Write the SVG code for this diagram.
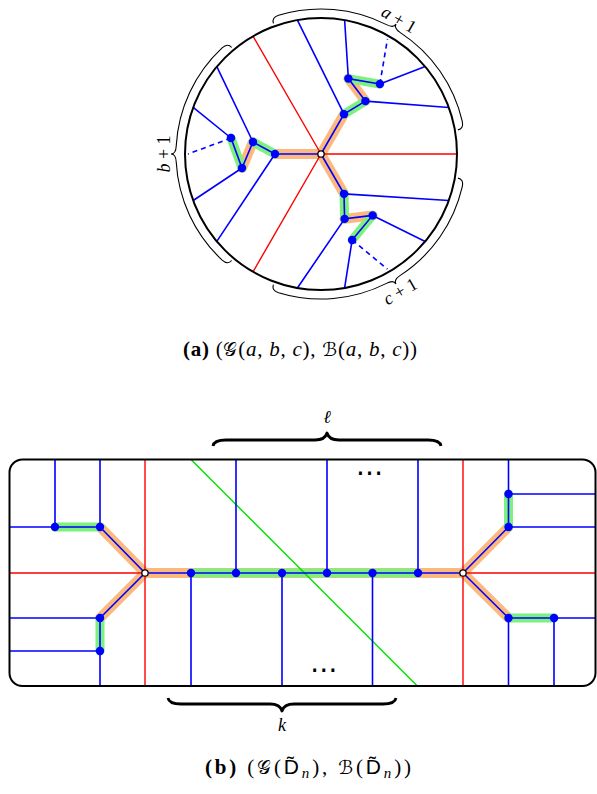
<svg xmlns="http://www.w3.org/2000/svg" width="597" height="794" viewBox="0 0 597 794">
<style>
.bl{stroke:#0000ff;stroke-width:1.6;fill:none}
.dash{stroke:#0000ff;stroke-width:1.6;stroke-dasharray:5 4;fill:none}
.rd{stroke:#ff0000;stroke-width:1.4;fill:none}
.gr{stroke:#00e000;stroke-width:1.4;fill:none}
.ho{stroke:#fcb97e;stroke-width:10;stroke-linecap:round;stroke-linejoin:round;fill:none}
.hg{stroke:#7ef07e;stroke-width:9;stroke-linecap:round;stroke-linejoin:round;fill:none}
.nd{fill:#0000ff}
.wn{fill:#ffffff;stroke:#000000;stroke-width:1.3}
.frame{fill:none;stroke:#000000;stroke-width:2}
.brace{fill:none;stroke:#000000;stroke-width:1.1}
.bbrace{fill:none;stroke:#000000;stroke-width:2.8;stroke-linejoin:round}
.lab{font-family:"Liberation Serif","DejaVu Serif",serif;font-size:18px;fill:#000}
.cap{font-family:"Liberation Serif","DejaVu Serif",serif;font-size:21px;fill:#000}
.it{font-style:italic}
.cal{font-family:"DejaVu Serif","DejaVu Sans","Noto Sans",serif;font-style:normal;font-size:19px}
.sf{font-family:"Liberation Sans","DejaVu Sans",sans-serif}
.dots{font-family:"DejaVu Sans",sans-serif;font-size:28px;fill:#000}
</style>
<defs>
<path id="bracearc" d="M 89.35 -106.48 Q 93.2 -111.1 98.89 -106.05 A 145 145 0 0 1 144.78 -8 C 145 -3 147 0 150 0 C 147 0 145 3 144.78 8 A 145 145 0 0 1 98.89 106.05 Q 93.2 111.1 89.35 106.48"/>
</defs>

<!-- ===== (a) circle diagram ===== -->
<g id="a-highlights">
<path class="ho" d="M321 154 L275 154 M253 142 L242 168 M321 154 L344 114.16 M365.39 101.11 L348.38 78.59 M321 154 L344 193.84 M344.61 218.89 L372.62 215.41"/>
<path class="hg" d="M275 154 L253 142 M242 168 L231 138 M344 114.16 L365.39 101.11 M348.38 78.59 L379.86 84.06 M344 193.84 L344.61 218.89 M372.62 215.41 L352.14 239.94"/>
</g>
<g id="a-connectors">
<path class="rd" d="M321 154 L457 154 M321 154 L253 36.22 M321 154 L253 271.78"/>
<path class="bl" d="M321 154 L275 154 L253 142 L242 168 L231 138 M275 154 L216.82 241.42 M253 142 L216.82 66.58 M242 168 L193.2 200.51 M231 138 L193.2 107.49"/>
<path class="bl" d="M321 154 L344 114.16 L365.39 101.11 L348.38 78.59 L379.86 84.06 M344 114.16 L297.39 20.07 M365.39 101.11 L448.8 107.49 M348.38 78.59 L344.61 20.07 M379.86 84.06 L425.18 66.58"/>
<path class="bl" d="M321 154 L344 193.84 L344.61 218.89 L372.62 215.41 L352.14 239.94 M344 193.84 L448.8 200.51 M344.61 218.89 L297.39 287.93 M372.62 215.41 L425.18 241.42 M352.14 239.94 L344.61 287.93"/>
<path class="dash" d="M231 138 L188 154 M379.86 84.06 L387.5 38.8 M352.14 239.94 L387.5 269.2"/>
</g>
<circle id="a-boundary" cx="321" cy="154" r="136" fill="none" stroke="#000" stroke-width="2"/>
<g id="a-nodes">
<g id="a-b1"><circle class="nd" cx="275" cy="154" r="4.2"/></g>
<g id="a-b2"><circle class="nd" cx="253" cy="142" r="4.2"/></g>
<g id="a-b3"><circle class="nd" cx="242" cy="168" r="4.2"/></g>
<g id="a-b4"><circle class="nd" cx="231" cy="138" r="4.2"/></g>
<g id="a-a1"><circle class="nd" cx="344" cy="114.16" r="4.2"/></g>
<g id="a-a2"><circle class="nd" cx="365.39" cy="101.11" r="4.2"/></g>
<g id="a-a3"><circle class="nd" cx="348.38" cy="78.59" r="4.2"/></g>
<g id="a-a4"><circle class="nd" cx="379.86" cy="84.06" r="4.2"/></g>
<g id="a-c1"><circle class="nd" cx="344" cy="193.84" r="4.2"/></g>
<g id="a-c2"><circle class="nd" cx="344.61" cy="218.89" r="4.2"/></g>
<g id="a-c3"><circle class="nd" cx="372.62" cy="215.41" r="4.2"/></g>
<g id="a-c4"><circle class="nd" cx="352.14" cy="239.94" r="4.2"/></g>
<g id="a-center"><circle class="wn" cx="321" cy="154" r="3.2"/></g>
</g>
<g id="a-braces">
<use href="#bracearc" class="brace" transform="translate(321 154) rotate(-60)"/>
<use href="#bracearc" class="brace" transform="translate(321 154) rotate(180)"/>
<use href="#bracearc" class="brace" transform="translate(321 154) rotate(60)"/>
<text class="lab" text-anchor="middle" transform="translate(396 24.5) rotate(30)"><tspan class="it">a</tspan> + 1</text>
<text class="lab" text-anchor="middle" transform="translate(169.5 154) rotate(-90)"><tspan class="it">b</tspan> + 1</text>
<text class="lab" text-anchor="middle" transform="translate(403.2 296.5) rotate(-30)"><tspan class="it">c</tspan> + 1</text>
</g>
<text id="cap-a" class="cap" x="300" y="356" text-anchor="middle" textLength="234" lengthAdjust="spacing"><tspan font-weight="bold">(a)</tspan> (<tspan class="cal">𝒢</tspan>(<tspan class="it">a</tspan>, <tspan class="it">b</tspan>, <tspan class="it">c</tspan>), <tspan class="cal">ℬ</tspan>(<tspan class="it">a</tspan>, <tspan class="it">b</tspan>, <tspan class="it">c</tspan>))</text>

<!-- ===== (b) rectangle diagram ===== -->
<g id="b-highlights">
<path class="ho" d="M100 527 L145 573 L100 618 M145 573 L463 573 M508.5 527 L463 573 L508.5 618"/>
<path class="hg" d="M55 527 L100 527 M100 618 L100 651 M191 573 L418 573 M508.5 494 L508.5 527 M508.5 618 L554 618"/>
</g>
<g id="b-connectors">
<path class="rd" d="M9.5 573 L145 573 M463 573 L595.5 573 M145 459.5 L145 686 M463 459.5 L463 686"/>
<path class="gr" d="M191 459.5 L417.3 686"/>
<path class="bl" d="M9.5 527 L100 527 M55 459.5 L55 527 M100 459.5 L100 527 L145 573 L100 618 L100 686 M9.5 618 L100 618 M9.5 651 L100 651"/>
<path class="bl" d="M145 573 L463 573 M191 573 L191 686 M236 573 L236 459.5 M282 573 L282 686 M327 573 L327 459.5 M372.5 573 L372.5 686 M418 573 L418 459.5"/>
<path class="bl" d="M463 573 L508.5 527 L508.5 459.5 M508.5 494 L595.5 494 M508.5 527 L595.5 527 M463 573 L508.5 618 L508.5 686 M508.5 618 L595.5 618 M554 618 L554 686"/>
</g>
<rect id="b-frame" class="frame" x="9.5" y="459.5" width="586" height="226.5" rx="13"/>
<g id="b-nodes">
<g id="b-L1"><circle class="nd" cx="55" cy="527" r="4.2"/></g>
<g id="b-L2"><circle class="nd" cx="100" cy="527" r="4.2"/></g>
<g id="b-L3"><circle class="nd" cx="100" cy="618" r="4.2"/></g>
<g id="b-L4"><circle class="nd" cx="100" cy="651" r="4.2"/></g>
<g id="b-S1"><circle class="nd" cx="191" cy="573" r="4.2"/></g>
<g id="b-S2"><circle class="nd" cx="236" cy="573" r="4.2"/></g>
<g id="b-S3"><circle class="nd" cx="282" cy="573" r="4.2"/></g>
<g id="b-S4"><circle class="nd" cx="327" cy="573" r="4.2"/></g>
<g id="b-S5"><circle class="nd" cx="372.5" cy="573" r="4.2"/></g>
<g id="b-S6"><circle class="nd" cx="418" cy="573" r="4.2"/></g>
<g id="b-R1"><circle class="nd" cx="508.5" cy="494" r="4.2"/></g>
<g id="b-R2"><circle class="nd" cx="508.5" cy="527" r="4.2"/></g>
<g id="b-R3"><circle class="nd" cx="508.5" cy="618" r="4.2"/></g>
<g id="b-R4"><circle class="nd" cx="554" cy="618" r="4.2"/></g>
<g id="b-W1"><circle class="wn" cx="145" cy="573" r="3.2"/></g>
<g id="b-W2"><circle class="wn" cx="463" cy="573" r="3.2"/></g>
</g>
<text class="dots" x="369.7" y="482" text-anchor="middle">⋯</text>
<text class="dots" x="324" y="679" text-anchor="middle">⋯</text>
<g id="b-braces">
<path class="bbrace" d="M213 446 Q214 440 226 440 L315 440 Q325 440 327 433 Q329 440 339 440 L428 440 Q440 440 441 446"/>
<path class="bbrace" d="M168 698 Q169 704 181 704 L270 704 Q280 704 282 711 Q284 704 294 704 L383 704 Q395 704 396 698"/>
<text class="lab it" x="327" y="423" text-anchor="middle" font-size="19">ℓ</text>
<text class="lab it" x="282" y="731" text-anchor="middle" font-size="19">k</text>
</g>
<text id="cap-b" class="cap" x="308" y="774" text-anchor="middle" textLength="206" lengthAdjust="spacing"><tspan font-weight="bold">(b)</tspan> (<tspan class="cal">𝒢</tspan>(<tspan class="sf">D̃</tspan><tspan class="it" font-size="15" dy="4">n</tspan><tspan dy="-4">),</tspan> <tspan class="cal">ℬ</tspan>(<tspan class="sf">D̃</tspan><tspan class="it" font-size="15" dy="4">n</tspan><tspan dy="-4">))</tspan></text>
</svg>
